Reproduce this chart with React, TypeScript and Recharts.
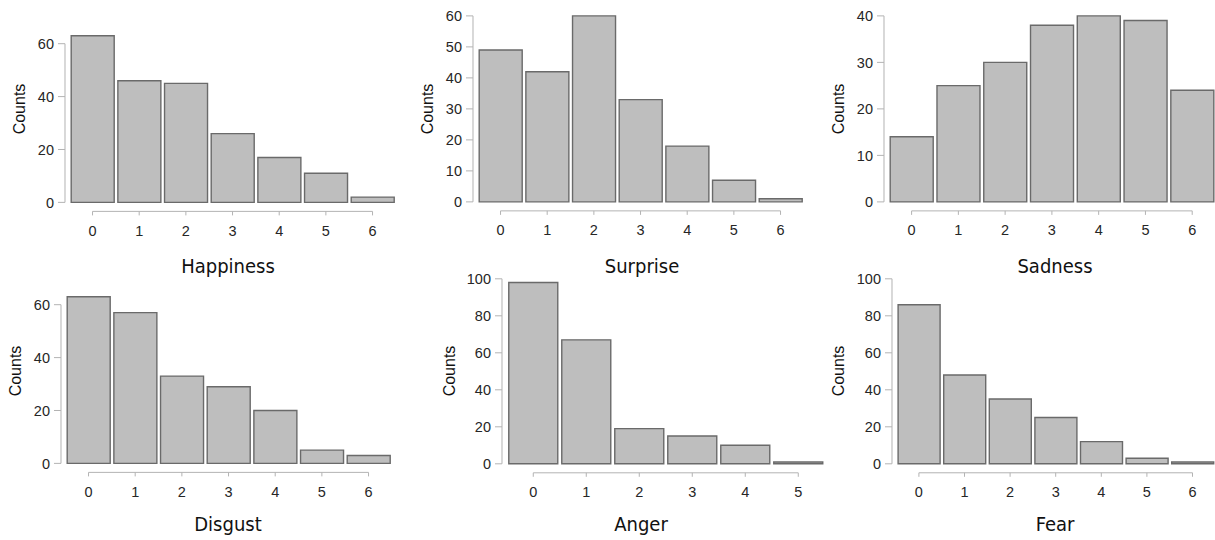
import React from 'react';
import { BarChart, Bar, XAxis, YAxis, ReferenceLine } from 'recharts';

// counts per rating level
const happinessCounts = [63, 46, 45, 26, 17, 11, 2];
const surpriseCounts = [49, 42, 60, 33, 18, 7, 1];
const sadnessCounts = [14, 25, 30, 38, 40, 39, 24];
const disgustCounts = [63, 57, 33, 29, 20, 5, 3];
const angerCounts = [98, 67, 19, 15, 10, 1];
const fearCounts = [86, 48, 35, 25, 12, 3, 1];

const sevenLevels = [0, 1, 2, 3, 4, 5, 6];
const sixLevels = [0, 1, 2, 3, 4, 5];

const ticks20To60 = [0, 20, 40, 60];
const ticks10To60 = [0, 10, 20, 30, 40, 50, 60];
const ticks10To40 = [0, 10, 20, 30, 40];
const ticks20To100 = [0, 20, 40, 60, 80, 100];

const BAR_FILL = '#bebebe';
const BAR_STROKE = '#6a6a6a';
const AXIS_GRAY = '#b3b3b3';
const TICK_TEXT = '#262626';
const TICK_FONT = "'Liberation Sans', Arial, sans-serif";
const TITLE_FONT = "'DejaVu Sans Condensed', 'DejaVu Sans', sans-serif";

const X_GAP = 0.09; // gap between y axis line and first bar (category units)
const AXIS_DROP = 9; // px the x axis line sits under zero
const Y_AXIS_W = 50;
const X_AXIS_H = 36;
const TOP_PAD = 12;
const RIGHT_PAD = 4;

type Panel = {
  title: string;
  counts: number[];
  levels: number[];
  yTicks: number[];
  left: number;
  step: number;
  zeroY: number;
  unitPx: number;
  titleX: number;
  titleY: number;
  countsX: number;
  countsY: number;
};

const panels: Panel[] = [
  { title: 'Happiness', counts: happinessCounts, levels: sevenLevels, yTicks: ticks20To60, left: 65, step: 46.67, zeroY: 202, unitPx: 2.645, titleX: 228, titleY: 273, countsX: 25, countsY: 109 },
  { title: 'Surprise', counts: surpriseCounts, levels: sevenLevels, yTicks: ticks10To60, left: 473.3, step: 46.67, zeroY: 201.7, unitPx: 3.1, titleX: 642, titleY: 273, countsX: 433, countsY: 109 },
  { title: 'Sadness', counts: sadnessCounts, levels: sevenLevels, yTicks: ticks10To40, left: 884, step: 46.77, zeroY: 201.7, unitPx: 4.65, titleX: 1055, titleY: 273, countsX: 844, countsY: 109 },
  { title: 'Disgust', counts: disgustCounts, levels: sevenLevels, yTicks: ticks20To60, left: 60.7, step: 46.67, zeroY: 463.7, unitPx: 2.645, titleX: 228, titleY: 530.5, countsX: 21, countsY: 371 },
  { title: 'Anger', counts: angerCounts, levels: sixLevels, yTicks: ticks20To100, left: 501.7, step: 53, zeroY: 463.7, unitPx: 1.85, titleX: 641, titleY: 530.5, countsX: 455, countsY: 371 },
  { title: 'Fear', counts: fearCounts, levels: sevenLevels, yTicks: ticks20To100, left: 891.7, step: 45.6, zeroY: 463.7, unitPx: 1.85, titleX: 1055, titleY: 530.5, countsX: 844, countsY: 371 },
];

function CountChart({ p }: { p: Panel }) {
  const data = p.levels.map((level, i) => ({ level, count: p.counts[i] }));
  const n = p.levels.length;
  const topTick = p.yTicks[p.yTicks.length - 1];
  const yMin = -AXIS_DROP / p.unitPx;
  const yMax = topTick * 1.08;
  const xMin = p.levels[0] - 0.5 - X_GAP;
  const xMax = p.levels[n - 1] + 0.5;
  const plotW = (xMax - xMin) * p.step;
  const plotH = (yMax - yMin) * p.unitPx;
  const width = Y_AXIS_W + plotW + RIGHT_PAD;
  const height = TOP_PAD + plotH + X_AXIS_H;
  const left = p.left - Y_AXIS_W;
  const top = p.zeroY - yMax * p.unitPx - TOP_PAD;
  const tickStyle = { fill: TICK_TEXT, fontSize: 14.5, fontFamily: TICK_FONT };

  return (
    <div style={{ position: 'absolute', left, top, width, height }}>
      <BarChart
        width={width}
        height={height}
        data={data}
        margin={{ top: TOP_PAD, right: RIGHT_PAD, bottom: 0, left: 0 }}
        barCategoryGap={2}
      >
        <XAxis
          type="number"
          dataKey="level"
          domain={[xMin, xMax]}
          ticks={p.levels}
          interval={0}
          axisLine={false}
          tickLine={{ stroke: AXIS_GRAY }}
          tickSize={4}
          tickMargin={10}
          height={X_AXIS_H}
          tick={tickStyle}
        />
        <YAxis
          type="number"
          domain={[yMin, yMax]}
          ticks={p.yTicks}
          interval={0}
          axisLine={false}
          tickLine={{ stroke: AXIS_GRAY }}
          tickSize={7}
          tickMargin={4}
          width={Y_AXIS_W}
          tick={tickStyle}
        />
        <ReferenceLine
          segment={[{ x: xMin, y: p.yTicks[0] }, { x: xMin, y: topTick }]}
          stroke={AXIS_GRAY}
          ifOverflow="visible"
        />
        <ReferenceLine
          segment={[{ x: p.levels[0], y: yMin }, { x: p.levels[n - 1], y: yMin }]}
          stroke={AXIS_GRAY}
          ifOverflow="visible"
        />
        <Bar dataKey="count" fill={BAR_FILL} stroke={BAR_STROKE} strokeWidth={1.4} isAnimationActive={false} />
      </BarChart>
    </div>
  );
}

export default function App() {
  return (
    <div style={{ position: 'absolute', left: 0, top: 0, width: 1215, height: 540, background: '#fff', overflow: 'hidden' }}>
      {panels.map((p) => (
        <CountChart key={p.title} p={p} />
      ))}
      <svg width={1215} height={540} style={{ position: 'absolute', left: 0, top: 0, pointerEvents: 'none' }}>
        {panels.map((p) => (
          <g key={p.title}>
            <text x={p.titleX} y={p.titleY} textAnchor="middle" fontFamily={TITLE_FONT} fontSize={20} fill="#111">
              {p.title}
            </text>
            <text
              transform={`translate(${p.countsX}, ${p.countsY}) rotate(-90)`}
              textAnchor="middle"
              fontFamily={TICK_FONT}
              fontSize={16}
              fill="#111"
            >
              Counts
            </text>
          </g>
        ))}
      </svg>
    </div>
  );
}
